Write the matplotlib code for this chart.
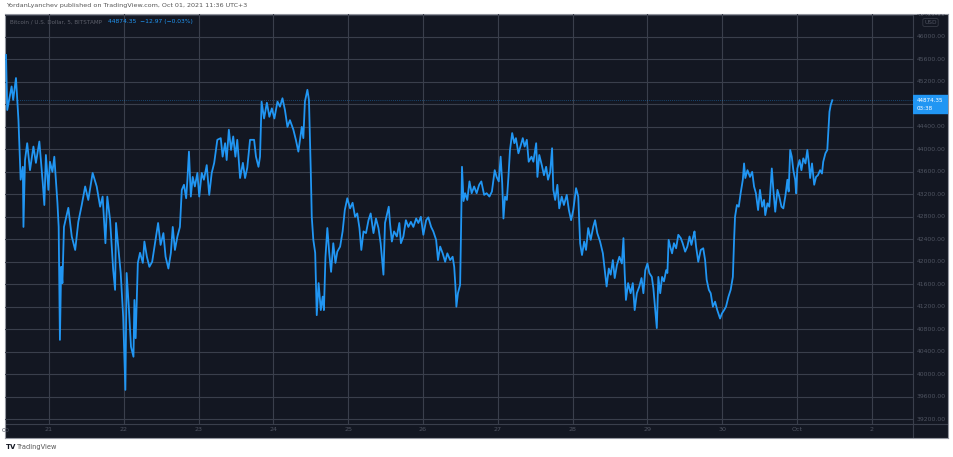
import numpy as np
import matplotlib
matplotlib.use("Agg")
from matplotlib import pyplot as plt
from matplotlib.patches import Rectangle

# BTCUSD 5 min, hours counted from 20 Sep 2021 00:00 (UTC+3)
hours = [10.2, 10.6, 12.0, 12.5, 13.4, 14.2, 14.9, 15.6, 15.8, 16.3, 17.0, 17.9, 19.0, 19.8, 20.9, 22.0, 22.5, 23.0, 23.8,
         24.3, 25.1, 25.7, 26.7, 27.1, 27.5, 27.9, 28.3, 28.8, 30.2, 31.3, 32.4, 33.4, 34.5, 35.6, 36.6, 38.0, 39.3, 40.4,
         41.2, 42.1, 42.7, 43.6, 44.6, 45.2, 45.5, 46.2, 47.0, 47.8, 48.5, 48.9, 49.6, 50.3, 51.1, 51.4, 51.8, 52.5, 53.2,
         54.1, 54.6, 55.4, 56.2, 57.1, 58.0, 59.0, 59.8, 60.7, 61.4, 62.3, 63.1, 63.7, 64.4, 65.2, 66.0, 66.6, 67.3, 68.0,
         68.4, 68.9, 69.5, 70.1, 70.8, 71.6, 72.2, 73.0, 73.7, 74.6, 75.4, 76.2, 77.0, 78.0, 79.1, 79.7, 80.5, 81.0, 81.7,
         82.4, 83.1, 83.8, 84.4, 85.3, 86.2, 86.9, 87.6, 88.5, 89.8, 90.4, 91.2, 91.7, 92.2, 93.0, 93.9, 94.7, 95.5, 96.3,
         97.3, 98.1, 98.9, 99.7, 100.5, 101.3, 102.4, 103.2, 104.0, 105.1, 105.6, 106.1, 106.9, 107.4, 108.0, 108.3, 108.8,
         109.4, 109.9, 110.5, 111.2, 111.8, 112.2, 112.7, 113.3, 113.9, 114.5, 115.2, 115.9, 116.5, 117.4, 118.2, 118.9,
         119.7, 120.6, 121.4, 122.2, 122.9, 123.6, 124.2, 124.9, 125.7, 126.5, 127.2, 128.1, 128.9, 129.7, 130.4, 131.3,
         131.8, 132.5, 133.0, 133.4, 134.0, 134.7, 135.6, 136.4, 136.9, 137.7, 138.5, 139.3, 140.1, 140.9, 141.8, 142.5,
         143.3, 144.1, 145.0, 145.7, 146.6, 147.3, 148.2, 148.8, 149.5, 150.3, 151.1, 151.8, 152.7, 153.5, 154.0, 154.4,
         154.7, 155.2, 155.9, 156.2, 156.5, 157.0, 157.5, 158.2, 158.9, 159.6, 160.4, 161.2, 162.0, 162.7, 163.6, 164.4,
         165.3, 166.1, 167.0, 167.6, 168.3, 168.9, 169.4, 169.8, 170.3, 170.9, 171.4, 171.9, 172.6, 173.3, 173.8, 174.6,
         175.4, 176.0, 176.6, 177.3, 177.9, 178.8, 179.4, 180.3, 180.7, 181.3, 182.1, 182.8, 183.5, 184.1, 184.8, 185.4,
         185.8, 186.4, 187.1, 187.7, 188.5, 189.2, 190.1, 190.8, 191.5, 192.2, 193.1, 193.8, 194.4, 195.0, 195.7, 196.3,
         197.0, 197.8, 198.6, 199.2, 199.9, 200.8, 201.7, 202.4, 202.9, 203.6, 204.2, 204.9, 205.5, 206.2, 207.0, 207.8,
         208.3, 208.7, 209.1, 209.8, 210.6, 211.3, 211.9, 212.6, 213.4, 214.1, 214.7, 215.3, 216.0, 216.6, 217.4, 217.9,
         218.5, 219.0, 219.5, 220.1, 220.7, 221.3, 222.0, 222.4, 222.8, 223.3, 223.9, 224.5, 225.2, 225.9, 226.7, 227.3,
         228.1, 228.8, 229.5, 230.1, 230.7, 231.1, 231.6, 232.3, 233.1, 233.9, 234.5, 235.0, 235.7, 236.3, 237.0, 237.7,
         238.4, 239.3, 239.9, 240.6, 241.2, 242.0, 242.7, 243.4, 243.8, 244.1, 244.7, 245.3, 245.9, 246.6, 247.0, 247.4,
         248.1, 248.9, 249.6, 250.2, 250.8, 251.5, 252.1, 252.8, 253.4, 253.8, 254.5, 255.1, 255.9, 256.4, 257.0, 257.7,
         258.3, 259.0, 259.6, 260.3, 260.9, 261.3, 261.8, 262.3, 262.8, 263.4, 263.7, 264.1, 264.8, 265.4, 266.0, 266.7,
         267.3, 267.8, 268.2, 268.8, 269.5, 270.1, 270.7, 271.4, 272.0, 272.4, 273.1, 273.7, 274.0, 274.4, 274.8, 275.3]

price = [45680, 44700, 45120, 44880, 45270, 44520, 43460, 43690, 42620, 43810, 44110, 43630, 44050, 43760, 44140, 43400,
         43010, 43900, 43280, 43780, 43600, 43870, 43050, 42620, 40610, 41910, 41620, 42620, 42960, 42450, 42210, 42710,
         43010, 43340, 43100, 43580, 43340, 42980, 43160, 42330, 43160, 42740, 41850, 41500, 42690, 42270, 41800, 41020,
         39720, 41800, 41200, 40490, 40310, 41320, 40640, 41980, 42160, 41980, 42360, 42090, 41910, 42000, 42330, 42690,
         42300, 42510, 42090, 41880, 42160, 42620, 42210, 42450, 42620, 43280, 43370, 43130, 43460, 43960, 43160, 43510,
         43340, 43580, 43160, 43580, 43460, 43720, 43190, 43580, 43760, 44170, 44200, 43870, 44110, 43810, 44350, 43990,
         44230, 43870, 44170, 43490, 43760, 43490, 43670, 44170, 44170, 43870, 43690, 43870, 44850, 44550, 44830, 44580,
         44730, 44550, 44850, 44760, 44910, 44700, 44400, 44520, 44350, 44170, 43960, 44400, 44200, 44850, 45060, 44880,
         43580, 42800, 42390, 42160, 41050, 41620, 41140, 41380, 41140, 42090, 42600, 42160, 41820, 42330, 41980, 42180,
         42270, 42540, 42920, 43130, 42950, 43050, 42800, 42860, 42600, 42210, 42540, 42510, 42740, 42860, 42510, 42770,
         42600, 42330, 41770, 42690, 42860, 42980, 42690, 42360, 42540, 42450, 42690, 42330, 42450, 42740, 42620, 42710,
         42620, 42770, 42690, 42800, 42480, 42740, 42790, 42620, 42540, 42390, 42030, 42270, 42150, 42000, 42150, 42030,
         42090, 41910, 41560, 41200, 41440, 41590, 42570, 43690, 43080, 43220, 43100, 43430, 43220, 43340, 43220, 43370,
         43430, 43190, 43220, 43160, 43250, 43630, 43510, 43430, 43870, 43400, 42770, 43160, 43100, 43510, 43990, 44290,
         44110, 44200, 43930, 44080, 44200, 44050, 44170, 43780, 43870, 43780, 44110, 43510, 43900, 43720, 43540, 43690,
         43460, 43600, 44020, 43280, 43100, 43370, 42950, 43160, 43010, 43190, 42920, 42740, 42920, 43310, 43160, 42330,
         42120, 42360, 42210, 42600, 42390, 42620, 42740, 42510, 42360, 42150, 41800, 41560, 41880, 41770, 42030, 41710,
         41940, 42090, 41970, 42420, 41800, 41320, 41620, 41440, 41620, 41140, 41440, 41560, 41710, 41440, 41850, 41970,
         41800, 41730, 41530, 41140, 40820, 41730, 41440, 41730, 41650, 41850, 41800, 42390, 42270, 42150, 42330, 42240,
         42480, 42420, 42330, 42180, 42270, 42450, 42300, 42450, 42540, 42270, 42000, 42210, 42240, 42030, 41680, 41500,
         41440, 41200, 41290, 41140, 40990, 41080, 41140, 41200, 41380, 41500, 41730, 42390, 42800, 43010, 42980, 43220,
         43460, 43750, 43490, 43630, 43510, 43600, 43340, 43220, 42920, 43280, 42980, 43100, 42830, 43040, 42980, 43660,
         43280, 42890, 43280, 43160, 42980, 42950, 43190, 43460, 43250, 43990, 43870, 43630, 43460, 43220, 43660, 43810,
         43630, 43840, 43750, 43990, 43750, 43490, 43750, 43370, 43510, 43540, 43630, 43570, 43780, 43930, 43990, 44290,
         44670, 44790, 44874.35]

day_ticks = [24, 48, 72, 96, 120, 144, 168, 192, 216, 240, 264, 288]
day_labels = ["21", "22", "23", "24", "25", "26", "27", "28", "29", "30", "Oct", "2"]
price_ticks = list(range(39200, 46401, 400))
last_price = 44874.35
change = -12.97
change_pct = -0.03
countdown = "03:38"

BG = "#131722"
GRID = "#3a3f4c"
BLUE = "#2196f3"
DIM = "#4f5461"

W, H = 954, 457
fig = plt.figure(figsize=(W / 100, H / 100), dpi=100)
fig.patch.set_facecolor("white")


def box(x0, y0, x1, y1):
    # pixel rectangle (top-left origin) -> figure fraction
    return [x0 / W, 1 - y1 / H, (x1 - x0) / W, (y1 - y0) / H]


panel = fig.add_axes(box(5, 14, 948, 438))
panel.set_facecolor(BG)
panel.set_xticks([])
panel.set_yticks([])
for s in panel.spines.values():
    s.set_color("#9598a1")
    s.set_linewidth(0.8)
panel.axvline((913 - 5) / 943, color=GRID, lw=0.8)
panel.axhline((438 - 424) / 424, color=GRID, lw=0.8)

ax = fig.add_axes(box(5, 14, 913, 424))
ax.set_facecolor("none")
ax.plot(hours, price, color=BLUE, lw=1.3, solid_joinstyle="round", zorder=3)
ax.axhline(last_price, color=BLUE, lw=0.6, ls=(0, (1, 1.5)), alpha=0.5, zorder=2)
ax.set_xlim(9.88, 301.2)
ax.set_ylim(39113, 46409)
ax.set_xticks(day_ticks)
ax.set_xticklabels(day_labels)
ax.set_yticks(price_ticks)
ax.tick_params(axis="x", length=0, pad=2.5, labelsize=4.6, labelcolor=DIM)
ax.tick_params(axis="y", length=0, labelleft=False)
ax.grid(True, color=GRID, lw=0.8)
for s in ax.spines.values():
    s.set_visible(False)
ax.text(-3 / 908, -7 / 410, "00", transform=ax.transAxes, fontsize=4.6, color=DIM, ha="left", va="center")

# legend line inside the chart
ax.text(5 / 908, 1 - 8 / 410, "Bitcoin / U.S. Dollar, 5, BITSTAMP", transform=ax.transAxes,
        fontsize=4.1, color="#5d606b", va="center", ha="left")
ax.text(103 / 908, 1 - 8 / 410, f"{last_price:.2f}  {change:.2f} ({change_pct:.2f}%)".replace("-", "\u2212"),
        transform=ax.transAxes, fontsize=4.3, color=BLUE, va="center", ha="left")

# price scale
ax_r = fig.add_axes(box(913, 14, 948, 424))
ax_r.set_facecolor("none")
ax_r.set_ylim(ax.get_ylim())
ax_r.set_xlim(0, 1)
ax_r.axis("off")
for p in price_ticks:
    ax_r.text(0.1, p, f"{p:.2f}", fontsize=4.4, color=DIM, va="center", ha="left", clip_on=True)
per_px = (ax.get_ylim()[1] - ax.get_ylim()[0]) / 410
ax_r.add_patch(Rectangle((0, last_price - 13 * per_px), 1, 18 * per_px, color=BLUE, zorder=4))
ax_r.text(0.1, last_price, f"{last_price:.2f}", fontsize=4.1, color="white", va="center", ha="left", zorder=5)
ax_r.text(0.1, last_price - 8 * per_px, countdown, fontsize=4.1, color="white", va="center", ha="left", zorder=5)
ax_r.text(0.5, 1 - 8.5 / 410, "USD", transform=ax_r.transAxes, fontsize=4.2, color=DIM, ha="center", va="center",
          bbox=dict(boxstyle="round,pad=0.25,rounding_size=0.3", fc=BG, ec="#363a45", lw=0.6))

fig.text(6 / W, 1 - 6 / H, "YordanLyanchev published on TradingView.com, Oct 01, 2021 11:36 UTC+3",
         fontsize=4.6, color="#555555", va="center", ha="left")
fig.text(6 / W, 1 - 447 / H, "TV", fontsize=5, color="#131722", weight="bold", va="center", ha="left")
fig.text(17 / W, 1 - 447 / H, "TradingView", fontsize=4.8, color="#555555", va="center", ha="left")

fig.savefig("out.png", dpi=100, facecolor="white")
